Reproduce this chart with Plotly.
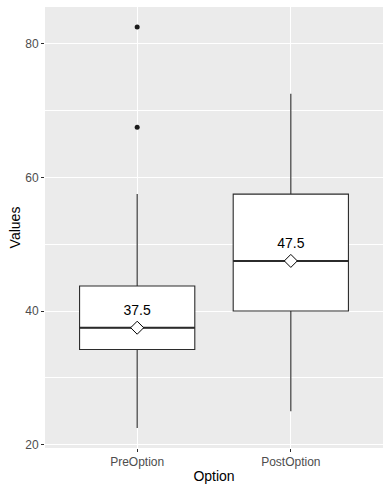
import plotly.graph_objects as go

categories = ["PreOption", "PostOption"]
q1 = [34.25, 40.0]
median = [37.5, 47.5]
q3 = [43.75, 57.5]
lower_whisker = [22.5, 25.0]
upper_whisker = [57.5, 72.5]
means = [37.5, 47.5]
outlier_cat = ["PreOption", "PreOption"]
outlier_val = [67.5, 82.5]

BOX_W = 0.75
LINE = "#2b2b2b"
FONT = "Arial, Liberation Sans, sans-serif"

pos = {c: i + 1 for i, c in enumerate(categories)}
xs = [pos[c] for c in categories]

fig = go.Figure()

fig.add_trace(go.Box(
    x=xs, q1=q1, median=median, q3=q3,
    lowerfence=lower_whisker, upperfence=upper_whisker,
    width=BOX_W, whiskerwidth=0,
    fillcolor="white", line=dict(color=LINE, width=1.1),
    boxpoints=False, showlegend=False, hoverinfo="skip",
))

# thicker median lines (ggplot fatten = 2)
for x, m in zip(xs, median):
    fig.add_trace(go.Scatter(
        x=[x - BOX_W / 2, x + BOX_W / 2], y=[m, m], mode="lines",
        line=dict(color=LINE, width=2), showlegend=False, hoverinfo="skip",
    ))

# outliers
fig.add_trace(go.Scatter(
    x=[pos[c] for c in outlier_cat], y=outlier_val, mode="markers",
    marker=dict(color="#1a1a1a", size=5), showlegend=False, hoverinfo="skip",
))

# means
fig.add_trace(go.Scatter(
    x=xs, y=means, mode="markers",
    marker=dict(symbol="diamond", size=10, color="white",
                line=dict(color="#000000", width=1)),
    showlegend=False, hoverinfo="skip",
))

# mean labels
fig.add_trace(go.Scatter(
    x=xs, y=[m + 2.5 for m in means], mode="text",
    text=[f"{m:.1f}" for m in means], textposition="middle center",
    textfont=dict(family=FONT, size=14, color="#000000"),
    showlegend=False, hoverinfo="skip",
))

all_vals = lower_whisker + upper_whisker + outlier_val
lo, hi = min(all_vals), max(all_vals)
pad = (hi - lo) * 0.05

fig.update_layout(
    width=391, height=493,
    margin=dict(l=45, r=8, t=7, b=45, autoexpand=False),
    plot_bgcolor="#EBEBEB", paper_bgcolor="white",
    font=dict(family=FONT),
    xaxis=dict(
        range=[0.4, len(categories) + 0.6],
        tickvals=xs, ticktext=categories,
        showgrid=True, gridcolor="white", gridwidth=1, zeroline=False,
        ticks="outside", ticklen=3, tickcolor=LINE,
        tickfont=dict(size=12, color="#4D4D4D"),
        automargin=False,
        title=dict(text="Option", font=dict(size=14, color="black"), standoff=2),
    ),
    yaxis=dict(
        range=[lo - pad, hi + pad],
        tickvals=[20, 40, 60, 80],
        showgrid=True, gridcolor="white", gridwidth=1, zeroline=False,
        ticks="outside", ticklen=3, tickcolor=LINE,
        tickfont=dict(size=12, color="#4D4D4D"),
        automargin=False,
        minor=dict(tickvals=[30, 50, 70], showgrid=True, gridcolor="white", gridwidth=0.5, ticks=""),
        title=dict(text="Values", font=dict(size=14, color="black"), standoff=1),
    ),
)

fig.write_html("out.html", config={"displayModeBar": False},
               post_script="document.body.style.margin='0';")
